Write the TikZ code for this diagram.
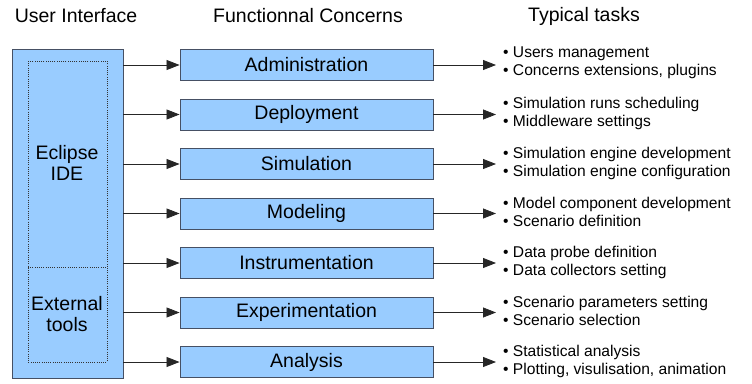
\documentclass[tikz,border=0pt]{standalone}
\usepackage{fontspec}
\setmainfont{Liberation Sans}
\usetikzlibrary{arrows.meta}
\definecolor{boxfill}{RGB}{153,204,255}
\definecolor{boxline}{RGB}{70,80,100}
\tikzset{
  fbox/.style={draw=boxline, fill=boxfill, line width=0.9pt, minimum width=253pt, minimum height=31pt, inner sep=0pt, font=\fontsize{19.5}{22}\selectfont},
  hdr/.style={font=\fontsize{19.5}{22}\selectfont, inner sep=0pt},
  task/.style={anchor=west, align=left, inner sep=0pt, font=\fontsize{15.6}{18}\selectfont},
  conn/.style={draw=black!85, line width=0.8pt, -{Triangle[length=13pt,width=10pt]}},
  dotline/.style={draw=black!80, line width=0.5pt, dash pattern=on 1pt off 1.2pt}
}
\begin{document}
\begin{tikzpicture}[x=1pt,y=-1pt]
\useasboundingbox (0,0) rectangle (752,383);
\node[hdr] (h1) at (76,16) {User Interface};
\node[hdr] (h2) at (308,16) {Functionnal Concerns};
\node[hdr] (h3) at (584,16) {Typical tasks};
% user interface box
\node[draw=boxline, fill=boxfill, line width=0.9pt, minimum width=111pt, minimum height=329pt, inner sep=0pt] (ui) at (67.5,213.5) {};
\draw[dotline] (28,61) rectangle (107,362);
\draw[dotline] (28,267) -- (107,267);
\node[align=center, inner sep=0pt, font=\fontsize{19.5}{21}\selectfont] (ide) at (67,163) {Eclipse\\IDE};
\node[align=center, inner sep=0pt, font=\fontsize{19.5}{21}\selectfont] (ext) at (67,314) {External\\tools};
% concern boxes
\node[fbox] (c1) at (306.5,65) {Administration};
\node[fbox] (c2) at (306.5,114.5) {Deployment};
\node[fbox] (c3) at (306.5,164) {Simulation};
\node[fbox] (c4) at (306.5,213.5) {Modeling};
\node[fbox] (c5) at (306.5,263) {Instrumentation};
\node[fbox] (c6) at (306.5,312.5) {Experimentation};
\node[fbox] (c7) at (306.5,362) {Analysis};
% tasks
\node[task] (t1) at (503,63) {• Users management\\• Concerns extensions, plugins};
\node[task] (t2) at (503,113) {• Simulation runs scheduling\\• Middleware settings};
\node[task] (t3) at (503,163) {• Simulation engine development\\• Simulation engine configuration};
\node[task] (t4) at (503,212) {• Model component development\\• Scenario definition};
\node[task] (t5) at (503,262) {• Data probe definition\\• Data collectors setting};
\node[task] (t6) at (503,311) {• Scenario parameters setting\\• Scenario selection};
\node[task] (t7) at (503,361) {• Statistical analysis\\• Plotting, visulisation, animation};
% connectors
\foreach \i in {1,...,7}{
  \draw[conn] (ui.east |- c\i.west) -- (c\i.west);
  \draw[conn] (c\i.east) -- ([xshift=-7pt]t\i.west |- c\i.east);
}
\end{tikzpicture}
\end{document}
